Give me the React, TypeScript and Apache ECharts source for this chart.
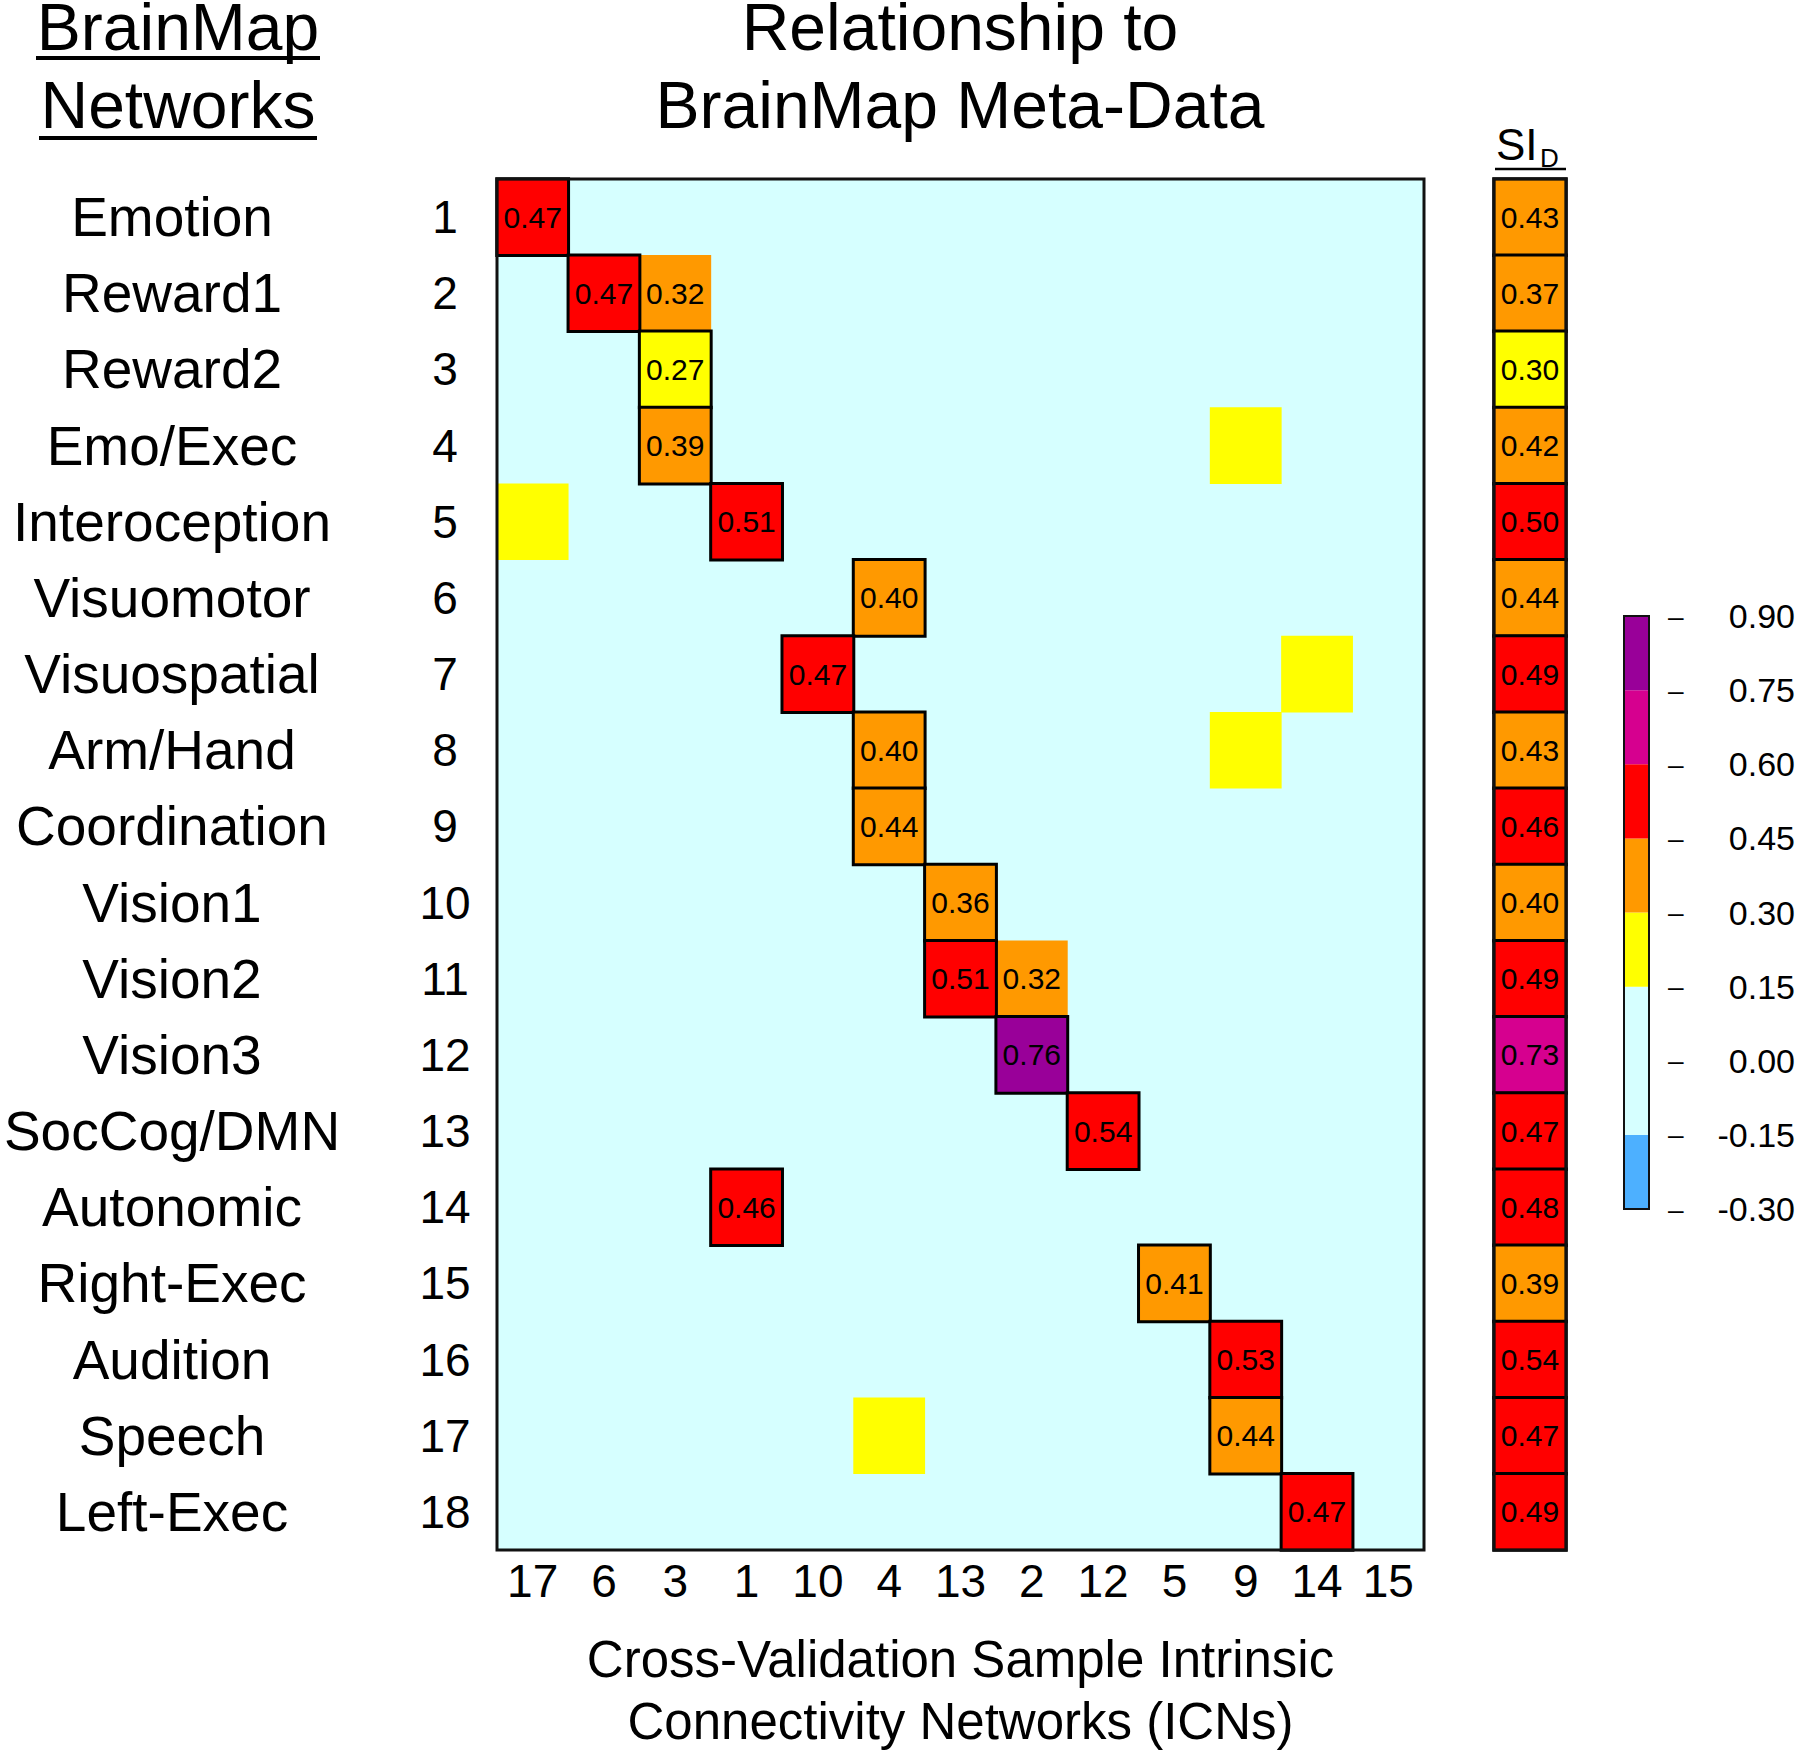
import React, { useEffect, useRef } from "react";
import * as echarts from "echarts";

// ---------------- DATA ----------------
const networkNames = [
  "Emotion", "Reward1", "Reward2", "Emo/Exec", "Interoception", "Visuomotor",
  "Visuospatial", "Arm/Hand", "Coordination", "Vision1", "Vision2", "Vision3",
  "SocCog/DMN", "Autonomic", "Right-Exec", "Audition", "Speech", "Left-Exec",
];
const networkNumbers = [
  "1", "2", "3", "4", "5", "6", "7", "8", "9", "10", "11", "12", "13", "14", "15", "16", "17", "18",
];
const icnLabels = ["17", "6", "3", "1", "10", "4", "13", "2", "12", "5", "9", "14", "15"];

// best-matching ICN per BrainMap network (outlined, labelled): [icnIndex, networkIndex, value]
const peakCells = [
  [0, 0, 0.47], [1, 1, 0.47], [2, 2, 0.27], [2, 3, 0.39], [3, 4, 0.51], [5, 5, 0.40],
  [4, 6, 0.47], [5, 7, 0.40], [5, 8, 0.44], [6, 9, 0.36], [6, 10, 0.51], [7, 11, 0.76],
  [8, 12, 0.54], [3, 13, 0.46], [9, 14, 0.41], [10, 15, 0.53], [10, 16, 0.44], [11, 17, 0.47],
];
// secondary labelled matches
const secondaryCells = [[2, 1, 0.32], [7, 10, 0.32]];
// unlabelled weak matches (0.15–0.30 band, values estimated)
const weakCells = [[10, 3, 0.22], [0, 4, 0.22], [11, 6, 0.22], [10, 7, 0.22], [5, 16, 0.22]];

const siValues = [
  0.43, 0.37, 0.30, 0.42, 0.50, 0.44, 0.49, 0.43, 0.46, 0.40, 0.49, 0.73, 0.47, 0.48, 0.39, 0.54, 0.47, 0.49,
];

const bandLows = [-0.30, -0.15, 0.15, 0.30, 0.45, 0.60, 0.75];
const bandHighs = [-0.15, 0.15, 0.30, 0.45, 0.60, 0.75, 0.90];
const bandColors = ["#4DB0FF", "#D6FFFF", "#FFFF00", "#FF9900", "#FF0000", "#D6008F", "#990099"];

// ---------------- LAYOUT ----------------
const FONT = "'Liberation Sans', Arial, Helvetica, sans-serif";
const HM = { left: 497, top: 179, width: 927, height: 1371 };
const SI = { left: 1494, top: 179, width: 72, height: 1371 };
const CB = { left: 1624, top: 616, width: 25, height: 593 };

const fmt2 = (v: number) => (Math.abs(v) < 1e-9 ? "0.00" : v.toFixed(2));

export default function App() {
  const ref = useRef<HTMLDivElement>(null);

  useEffect(() => {
    document.body.style.margin = "0";
    if (!ref.current) return;
    const chart = echarts.init(ref.current, null, { renderer: "svg" });

    const pieces = bandColors.map((c, i) =>
      i === 0
        ? { gte: bandLows[i], lte: bandHighs[i], color: c }
        : { gt: bandLows[i], lte: bandHighs[i], color: c }
    );

    const cellLabel = {
      show: true,
      color: "#000",
      fontFamily: FONT,
      fontSize: 30,
      formatter: (p: any) => fmt2(p.value[2]),
    };

    const bigText = (text: string, x: number, y: number) => ({
      type: "text",
      x,
      y,
      z: 20,
      style: {
        text,
        fill: "#000",
        font: `66px ${FONT}`,
        lineHeight: 48,
        textAlign: "center",
        textVerticalAlign: "middle",
      },
    });

    const option: any = {
      animation: false,
      backgroundColor: "#fff",
      textStyle: { fontFamily: FONT, color: "#000" },
      grid: [
        { ...HM, show: true, backgroundColor: "#D6FFFF", borderWidth: 0, containLabel: false, outerBoundsMode: "none" },
        { ...SI, show: false, containLabel: false, outerBoundsMode: "none" },
        { ...CB, show: false, containLabel: false, outerBoundsMode: "none" },
      ],
      xAxis: [
        {
          type: "category",
          gridIndex: 0,
          data: icnLabels,
          axisLine: { show: false },
          axisTick: { show: false },
          splitLine: { show: false },
          axisLabel: { interval: 0, fontSize: 46, color: "#000", fontFamily: FONT, margin: 8 },
          name: "Cross-Validation Sample Intrinsic\nConnectivity Networks (ICNs)",
          nameLocation: "middle",
          nameGap: 78,
          nameTextStyle: { fontSize: 51, lineHeight: 62, color: "#000", fontFamily: FONT, verticalAlign: "top" },
        },
        { type: "category", gridIndex: 1, data: ["SI_D"], show: false },
        { type: "value", gridIndex: 2, min: 0, max: 1, show: false },
      ],
      yAxis: [
        {
          type: "category",
          gridIndex: 0,
          data: networkNumbers,
          inverse: true,
          position: "left",
          axisLine: { show: false },
          axisTick: { show: false },
          splitLine: { show: false },
          axisLabel: { interval: 0, fontSize: 46, color: "#000", fontFamily: FONT, align: "center", margin: 52 },
        },
        {
          type: "category",
          gridIndex: 0,
          data: networkNames,
          inverse: true,
          position: "left",
          axisLine: { show: false },
          axisTick: { show: false },
          splitLine: { show: false },
          axisLabel: { interval: 0, fontSize: 55, color: "#000", fontFamily: FONT, align: "center", margin: 325 },
        },
        { type: "category", gridIndex: 1, data: networkNumbers, inverse: true, show: false },
        {
          type: "value",
          gridIndex: 2,
          min: -0.3,
          max: 0.9,
          interval: 0.15,
          position: "right",
          offset: 19,
          axisLine: { show: false, onZero: false },
          axisTick: { show: false },
          splitLine: { show: false },
          axisLabel: {
            color: "#000",
            fontFamily: FONT,
            fontSize: 34,
            align: "right",
            margin: 127,
            formatter: (v: number) => `{d|–}{v|${fmt2(v)}}`,
            rich: {
              d: { width: 50, align: "left", fontSize: 28, fontFamily: FONT, color: "#000" },
              v: { width: 77, align: "right", fontSize: 34, fontFamily: FONT, color: "#000" },
            },
          },
        },
      ],
      visualMap: {
        type: "piecewise",
        show: false,
        seriesIndex: [0, 1, 2, 3],
        dimension: 2,
        pieces,
      },
      series: [
        {
          type: "heatmap",
          name: "weak",
          xAxisIndex: 0,
          yAxisIndex: 0,
          data: weakCells,
          label: { show: false },
          itemStyle: { borderWidth: 0 },
          z: 2,
        },
        {
          type: "heatmap",
          name: "secondary",
          xAxisIndex: 0,
          yAxisIndex: 0,
          data: secondaryCells,
          label: cellLabel,
          itemStyle: { borderWidth: 0 },
          z: 2,
        },
        {
          type: "heatmap",
          name: "peak",
          xAxisIndex: 0,
          yAxisIndex: 0,
          data: peakCells,
          label: cellLabel,
          itemStyle: { borderColor: "#000", borderWidth: 3 },
          z: 4,
        },
        {
          type: "heatmap",
          name: "SI_D",
          xAxisIndex: 1,
          yAxisIndex: 2,
          data: siValues.map((v, i) => [0, i, v]),
          label: cellLabel,
          itemStyle: { borderColor: "#000", borderWidth: 3 },
          z: 4,
        },
        {
          type: "custom",
          name: "colorbar",
          xAxisIndex: 2,
          yAxisIndex: 3,
          encode: { y: [0, 1] },
          data: bandLows.map((lo, i) => [lo, bandHighs[i]]),
          renderItem: (params: any, api: any) => {
            const lo = api.value(0);
            const hi = api.value(1);
            const tl = api.coord([0, hi]);
            const br = api.coord([1, lo]);
            return {
              type: "rect",
              shape: { x: tl[0], y: tl[1], width: br[0] - tl[0], height: br[1] - tl[1] },
              style: { fill: bandColors[params.dataIndex], stroke: null },
            };
          },
          z: 2,
        },
      ],
      graphic: [
        // heading, left column
        bigText("BrainMap", 178, 27),
        { type: "line", z: 20, shape: { x1: 36, y1: 58, x2: 320, y2: 58 }, style: { stroke: "#000", lineWidth: 4 } },
        bigText("Networks", 178, 105),
        { type: "line", z: 20, shape: { x1: 39, y1: 138, x2: 317, y2: 138 }, style: { stroke: "#000", lineWidth: 4 } },
        // main title
        bigText("Relationship to", 960, 27),
        bigText("BrainMap Meta-Data", 960, 105),
        // SI_D header
        { type: "text", x: 1496, y: 144, z: 20, style: { text: "SI", fill: "#000", font: `44px ${FONT}`, textAlign: "left", textVerticalAlign: "middle" } },
        { type: "text", x: 1540, y: 158, z: 20, style: { text: "D", fill: "#000", font: `26px ${FONT}`, textAlign: "left", textVerticalAlign: "middle" } },
        { type: "line", z: 20, shape: { x1: 1495, y1: 169, x2: 1566, y2: 169 }, style: { stroke: "#000", lineWidth: 2.5 } },
        // frames
        { type: "rect", z: 30, shape: { x: HM.left, y: HM.top, width: HM.width, height: HM.height }, style: { fill: "none", stroke: "#111", lineWidth: 3 } },
        { type: "rect", z: 30, shape: { x: SI.left, y: SI.top, width: SI.width, height: SI.height }, style: { fill: "none", stroke: "#111", lineWidth: 3 } },
        { type: "rect", z: 30, shape: { x: CB.left, y: CB.top, width: CB.width, height: CB.height }, style: { fill: "none", stroke: "#111", lineWidth: 2 } },
      ],
    };

    chart.setOption(option);
    return () => chart.dispose();
  }, []);

  return (
    <div
      ref={ref}
      style={{ position: "absolute", left: 0, top: 0, width: 1800, height: 1754, background: "#fff" }}
    />
  );
}
